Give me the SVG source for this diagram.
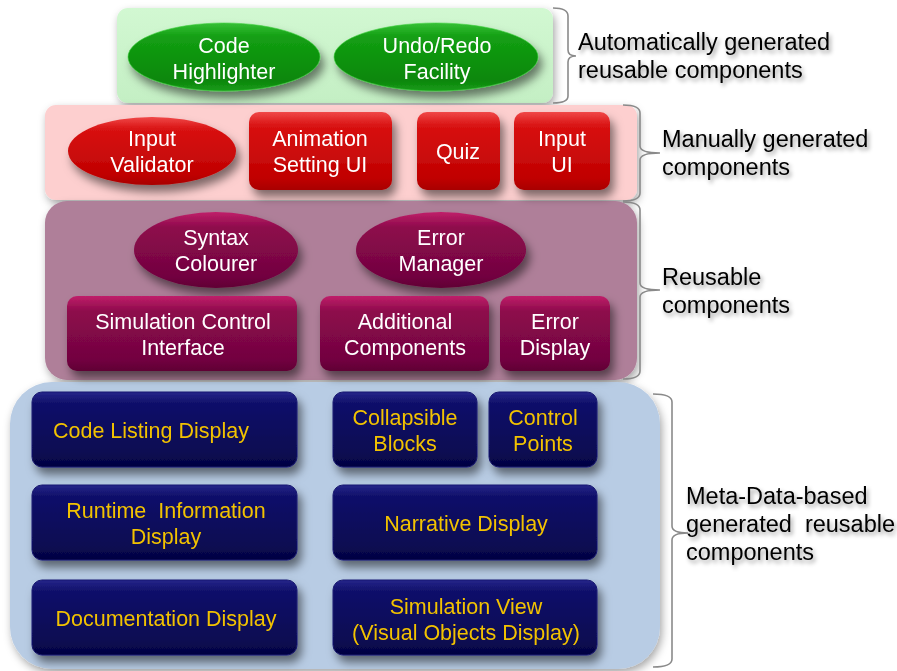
<svg xmlns="http://www.w3.org/2000/svg" width="897" height="671" viewBox="0 0 897 671">
  <defs>
    <filter id="panelShadow" x="-10%" y="-10%" width="125%" height="130%">
      <feDropShadow dx="2" dy="4" stdDeviation="4" flood-color="#000" flood-opacity="0.35"/>
    </filter>
    <filter id="nodeShadow" x="-15%" y="-20%" width="140%" height="160%">
      <feDropShadow dx="4" dy="7" stdDeviation="5" flood-color="#000" flood-opacity="0.5"/>
    </filter>
    <filter id="textShadow" x="-10%" y="-30%" width="125%" height="180%">
      <feDropShadow dx="2" dy="3" stdDeviation="2.2" flood-color="#000" flood-opacity="0.4"/>
    </filter>
    <linearGradient id="gGreen" x1="0" y1="0" x2="0" y2="1">
      <stop offset="0" stop-color="#36c036"/>
      <stop offset="0.2" stop-color="#139f13"/>
      <stop offset="0.85" stop-color="#0a870a"/>
      <stop offset="1" stop-color="#1b9c1b"/>
    </linearGradient>
    <linearGradient id="gRed" x1="0" y1="0" x2="0" y2="1">
      <stop offset="0" stop-color="#f04848"/>
      <stop offset="0.18" stop-color="#d81212"/>
      <stop offset="0.85" stop-color="#c00202"/>
      <stop offset="1" stop-color="#a80000"/>
    </linearGradient>
    <linearGradient id="gPurple" x1="0" y1="0" x2="0" y2="1">
      <stop offset="0" stop-color="#c0206a"/>
      <stop offset="0.2" stop-color="#8e0a4c"/>
      <stop offset="0.85" stop-color="#720440"/>
      <stop offset="1" stop-color="#600034"/>
    </linearGradient>
    <linearGradient id="gNavy" x1="0" y1="0" x2="0" y2="1">
      <stop offset="0" stop-color="#26268a"/>
      <stop offset="0.15" stop-color="#10106a"/>
      <stop offset="0.85" stop-color="#080850"/>
      <stop offset="1" stop-color="#040440"/>
    </linearGradient>
    <linearGradient id="gGreenPanel" x1="0" y1="0" x2="0" y2="1">
      <stop offset="0" stop-color="#d2f8d2"/>
      <stop offset="1" stop-color="#c4efc4"/>
    </linearGradient>
  </defs>
  <style>
    .panel { filter: url(#panelShadow); }
    .node { filter: url(#nodeShadow); }
    .t { font-family: "Liberation Sans", Arial, sans-serif; font-size: 21.5px; fill: #ffffff; text-anchor: middle; }
    .y { font-family: "Liberation Sans", Arial, sans-serif; font-size: 21.5px; fill: #f2c200; text-anchor: middle; }
    .lbl { font-family: "Liberation Sans", Arial, sans-serif; font-size: 23.5px; fill: #000000; filter: url(#textShadow); }
    .brace { fill: none; stroke: #8a8a8a; stroke-width: 1.6; }
    .green { fill: url(#gGreen); stroke: #3fcf3f; stroke-width: 1; stroke-opacity: 0.6; }
    .red { fill: url(#gRed); }
    .purple { fill: url(#gPurple); }
    .navy { fill: url(#gNavy); stroke: #1a1a70; stroke-width: 1; }
  </style>

  <rect width="897" height="671" fill="#ffffff"/>

  <!-- layer panels -->
  <g id="panels">
    <rect id="panel-auto" class="panel" x="117" y="8" width="436" height="95" rx="11" fill="url(#gGreenPanel)"/>
    <rect id="panel-manual" class="panel" x="45" y="105" width="592" height="95" rx="11" fill="#fdcfcf"/>
    <rect id="panel-reusable" class="panel" x="45" y="201" width="592" height="179" rx="22" fill="#af7f99"/>
    <rect id="panel-meta" class="panel" x="10" y="382" width="650" height="287" rx="42" fill="#b8cce4"/>
  </g>

  <!-- automatically generated reusable components -->
  <g id="code-highlighter" class="node">
    <ellipse class="green" cx="224" cy="57" rx="96" ry="34"/>
    <text class="t" x="224" y="53">Code</text>
    <text class="t" x="224" y="79">Highlighter</text>
  </g>
  <g id="undo-redo" class="node">
    <ellipse class="green" cx="436" cy="57" rx="102" ry="34"/>
    <text class="t" x="437" y="53">Undo/Redo</text>
    <text class="t" x="437" y="79">Facility</text>
  </g>

  <!-- manually generated components -->
  <g id="input-validator" class="node">
    <ellipse class="red" cx="152" cy="151" rx="84" ry="34"/>
    <text class="t" x="152" y="146">Input</text>
    <text class="t" x="152" y="172">Validator</text>
  </g>
  <g id="animation-setting" class="node">
    <rect class="red" x="249" y="112" width="143" height="78" rx="10"/>
    <text class="t" x="320" y="146">Animation</text>
    <text class="t" x="320" y="172">Setting UI</text>
  </g>
  <g id="quiz" class="node">
    <rect class="red" x="417" y="112" width="83" height="78" rx="10"/>
    <text class="t" x="458" y="159">Quiz</text>
  </g>
  <g id="input-ui" class="node">
    <rect class="red" x="514" y="112" width="96" height="78" rx="10"/>
    <text class="t" x="562" y="146">Input</text>
    <text class="t" x="562" y="172">UI</text>
  </g>

  <!-- reusable components -->
  <g id="syntax-colourer" class="node">
    <ellipse class="purple" cx="216" cy="250" rx="82" ry="38"/>
    <text class="t" x="216" y="245">Syntax</text>
    <text class="t" x="216" y="271">Colourer</text>
  </g>
  <g id="error-manager" class="node">
    <ellipse class="purple" cx="441" cy="250" rx="85" ry="38"/>
    <text class="t" x="441" y="245">Error</text>
    <text class="t" x="441" y="271">Manager</text>
  </g>
  <g id="simulation-control" class="node">
    <rect class="purple" x="67" y="296" width="230" height="75" rx="10"/>
    <text class="t" x="183" y="329">Simulation Control</text>
    <text class="t" x="183" y="355">Interface</text>
  </g>
  <g id="additional-components" class="node">
    <rect class="purple" x="320" y="296" width="169" height="75" rx="10"/>
    <text class="t" x="405" y="329">Additional</text>
    <text class="t" x="405" y="355">Components</text>
  </g>
  <g id="error-display" class="node">
    <rect class="purple" x="500" y="296" width="110" height="75" rx="10"/>
    <text class="t" x="555" y="329">Error</text>
    <text class="t" x="555" y="355">Display</text>
  </g>

  <!-- meta-data-based generated reusable components -->
  <g id="code-listing" class="node">
    <rect class="navy" x="32" y="392" width="265" height="75" rx="10"/>
    <text class="y" x="151" y="438">Code Listing Display</text>
  </g>
  <g id="collapsible-blocks" class="node">
    <rect class="navy" x="333" y="392" width="144" height="75" rx="10"/>
    <text class="y" x="405" y="425">Collapsible</text>
    <text class="y" x="405" y="451">Blocks</text>
  </g>
  <g id="control-points" class="node">
    <rect class="navy" x="489" y="392" width="108" height="75" rx="10"/>
    <text class="y" x="543" y="425">Control</text>
    <text class="y" x="543" y="451">Points</text>
  </g>
  <g id="runtime-information" class="node">
    <rect class="navy" x="32" y="485" width="265" height="75" rx="10"/>
    <text class="y" x="166" y="518" xml:space="preserve">Runtime  Information</text>
    <text class="y" x="166" y="544">Display</text>
  </g>
  <g id="narrative-display" class="node">
    <rect class="navy" x="333" y="485" width="264" height="75" rx="10"/>
    <text class="y" x="466" y="531">Narrative Display</text>
  </g>
  <g id="documentation-display" class="node">
    <rect class="navy" x="32" y="580" width="265" height="75" rx="10"/>
    <text class="y" x="166" y="626">Documentation Display</text>
  </g>
  <g id="simulation-view" class="node">
    <rect class="navy" x="333" y="580" width="264" height="75" rx="10"/>
    <text class="y" x="466" y="614">Simulation View</text>
    <text class="y" x="466" y="640">(Visual Objects Display)</text>
  </g>

  <!-- braces grouping each layer with its caption -->
  <g id="connectors">
    <path class="brace" d="M553 8 Q568 8 568 16 L568 50 Q568 56 576 56 Q568 56 568 62 L568 96 Q568 103 553 103"/>
    <path class="brace" d="M623 105 Q640 105 640 113 L640 146 Q640 153 660 153 Q640 153 640 160 L640 193 Q640 201 623 201"/>
    <path class="brace" d="M623 202 Q640 202 640 210 L640 283 Q640 290 660 290 Q640 290 640 297 L640 371 Q640 379 623 379"/>
    <path class="brace" d="M653 394 Q672 394 672 402 L672 526 Q672 533 688 533 Q672 533 672 540 L672 659 Q672 667 653 667"/>
  </g>

  <!-- layer captions -->
  <g id="captions">
    <text class="lbl" x="578" y="50">Automatically generated</text>
    <text class="lbl" x="578" y="78">reusable components</text>
    <text class="lbl" x="662" y="147">Manually generated</text>
    <text class="lbl" x="662" y="175">components</text>
    <text class="lbl" x="662" y="285">Reusable</text>
    <text class="lbl" x="662" y="313">components</text>
    <text class="lbl" x="686" y="504">Meta-Data-based</text>
    <text class="lbl" x="686" y="532" xml:space="preserve">generated  reusable</text>
    <text class="lbl" x="686" y="560">components</text>
  </g>
</svg>
